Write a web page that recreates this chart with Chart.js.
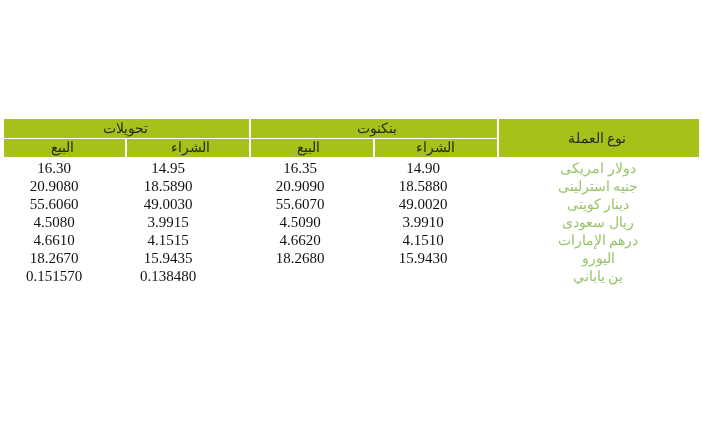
<!DOCTYPE html>
<html><head><meta charset="utf-8">
<script src="https://cdn.jsdelivr.net/npm/chart.js@4/dist/chart.umd.min.js"></script>
<style>html,body{margin:0;background:#fff}</style>
</head><body>
<canvas id="c" width="702" height="422"></canvas>
<script>
// الجدول: العملات والأسعار
const currencies = ['دولار امريكى', 'جنيه استرلينى', 'دينار كويتى', 'ريال سعودى', 'درهم الإمارات', 'اليورو', 'ين ياباني'];
const transferSell = ['16.30', '20.9080', '55.6060', '4.5080', '4.6610', '18.2670', '0.151570'];
const transferBuy = ['14.95', '18.5890', '49.0030', '3.9915', '4.1515', '15.9435', '0.138480'];
const cashSell = ['16.35', '20.9090', '55.6070', '4.5090', '4.6620', '18.2680', ''];
const cashBuy = ['14.90', '18.5880', '49.0020', '3.9910', '4.1510', '15.9430', ''];
const groupLabels = ['تحويلات', 'بنكنوت', 'نوع العملة'];
const subLabels = ['البيع', 'الشراء', 'البيع', 'الشراء'];

const GREEN = '#a6c21a';
const colEdges = [4, 126, 250, 374, 498, 699];
const colText = [54, 168, 300, 423, 598];
const subText = [62, 190, 308, 435];

const tablePlugin = {
  id: 'table',
  afterDraw(chart) {
    const ctx = chart.ctx, x = chart.scales.x, y = chart.scales.y;
    const px = v => x.getPixelForValue(v), py = v => y.getPixelForValue(v);
    ctx.save();
    ctx.fillStyle = GREEN;
    // header row 1
    ctx.fillRect(px(colEdges[0]), py(119), px(249) - px(colEdges[0]), py(138) - py(119));
    ctx.fillRect(px(251), py(119), px(497) - px(251), py(138) - py(119));
    ctx.fillRect(px(499), py(119), px(699) - px(499), py(157) - py(119));
    // header row 2
    for (let i = 0; i < 4; i++) {
      const a = colEdges[i] + (i ? 1 : 0), b = colEdges[i + 1] - 1;
      ctx.fillRect(px(a), py(139), px(b) - px(a), py(157) - py(139));
    }
    ctx.font = '14px "Liberation Serif", serif';
    ctx.textAlign = 'center';
    ctx.textBaseline = 'middle';
    ctx.fillStyle = '#2a2a10';
    ctx.fillText(groupLabels[0], px(125), py(129));
    ctx.fillText(groupLabels[1], px(377), py(129));
    ctx.fillText(groupLabels[2], px(597), py(139));
    subLabels.forEach((s, i) => ctx.fillText(s, px(subText[i]), py(148)));
    ctx.font = '15px "Liberation Serif", serif';
    currencies.forEach((name, r) => {
      const yy = py(169 + r * 18);
      ctx.fillStyle = '#111';
      [transferSell, transferBuy, cashSell, cashBuy].forEach((arr, c) => {
        if (arr[r]) ctx.fillText(arr[r], px(colText[c]), yy);
      });
      ctx.fillStyle = '#96c466';
      ctx.font = '14px "Liberation Serif", serif';
      ctx.fillText(name, px(colText[4]), yy);
      ctx.font = '15px "Liberation Serif", serif';
    });
    ctx.restore();
  }
};

new Chart(document.getElementById('c'), {
  type: 'scatter',
  data: { datasets: [{ data: [], pointRadius: 0 }] },
  options: {
    responsive: false,
    animation: false,
    layout: { padding: 0 },
    plugins: { legend: { display: false }, tooltip: { enabled: false } },
    scales: {
      x: { type: 'linear', min: 0, max: 702, display: false },
      y: { type: 'linear', min: 0, max: 422, reverse: true, display: false }
    }
  },
  plugins: [tablePlugin]
});
</script>
</body></html>
